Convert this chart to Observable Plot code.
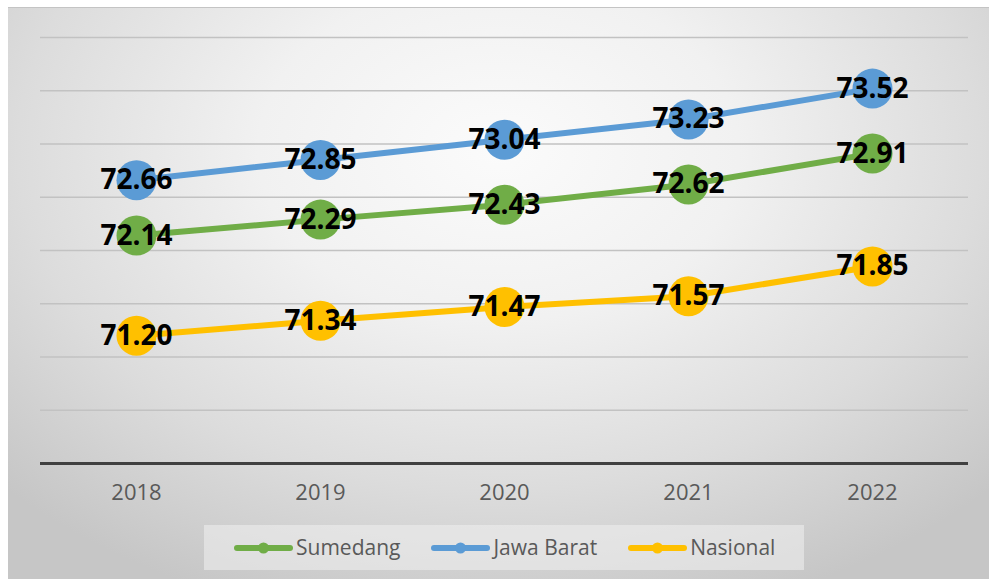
<!DOCTYPE html>
<html>
<head>
<meta charset="utf-8">
<script src="https://cdn.jsdelivr.net/npm/d3@7"></script>
<script src="https://cdn.jsdelivr.net/npm/@observablehq/plot@0.6"></script>
<style>
  html, body { margin: 0; padding: 0; background: #ffffff; }
  #wrap { position: relative; width: 989px; height: 583px; overflow: hidden; background: #ffffff; font-family: "Open Sans", sans-serif; }
  #panel { position: absolute; left: 8px; top: 7px; width: 981px; height: 572px;
    background: radial-gradient(ellipse 70% 85% at 50% 25%, #fbfbfb 0%, #f1f1f1 35%, #dcdcdc 70%, #c6c6c6 100%);
    border-top: 1px solid #c4c4c4; box-sizing: border-box; }
  #chart { position: absolute; left: 0; top: 0; }
  #legend { position: absolute; left: 204px; top: 525px; width: 600px; height: 45px;
    background: rgba(240,240,240,0.55); display: flex; align-items: center; padding-left: 30px; box-sizing: border-box; white-space: nowrap; }
  .item { display: flex; align-items: center; margin-right: 31px; flex-shrink: 0; white-space: nowrap; }
  .item svg { flex-shrink: 0; }
  .item span { font-size: 21px; color: #595959; margin-left: 3px; line-height: 1; white-space: nowrap; }
</style>
</head>
<body>
<div id="wrap">
  <div id="panel"></div>
  <div id="chart"></div>
  <div id="legend"></div>
</div>
<script>
const years = ["2018", "2019", "2020", "2021", "2022"];
const sumedang = [72.14, 72.29, 72.43, 72.62, 72.91];
const jawaBarat = [72.66, 72.85, 73.04, 73.23, 73.52];
const nasional = [71.20, 71.34, 71.47, 71.57, 71.85];
const seriesNames = ["Sumedang", "Jawa Barat", "Nasional"];
const seriesColors = ["#70AD47", "#5B9BD5", "#FFC000"];
const gridValues = [70.5, 71, 71.5, 72, 72.5, 73, 73.5, 74];
const yDomain = [70, 74];

const seriesValues = [sumedang, jawaBarat, nasional];
const data = [];
seriesNames.forEach((name, i) => {
  years.forEach((yr, j) => data.push({ series: name, year: yr, value: seriesValues[i][j] }));
});

const chart = Plot.plot({
  width: 989,
  height: 515,
  marginLeft: 40,
  marginRight: 21,
  marginTop: 37,
  marginBottom: 52,
  style: { background: "transparent", fontFamily: "Open Sans, sans-serif", overflow: "visible" },
  x: { type: "point", domain: years, range: [42, 966], padding: 0.5, label: null },
  y: { domain: yDomain, axis: null },
  color: { domain: seriesNames, range: seriesColors },
  marks: [
    Plot.ruleY(gridValues, { stroke: "#c2c2c2", strokeWidth: 1.6 }),
    Plot.ruleY([yDomain[0]], { stroke: "#404040", strokeWidth: 3 }),
    Plot.axisX({ tickSize: 0, tickPadding: 21, fontSize: 22, fill: "#595959", label: null }),
    Plot.line(data, { x: "year", y: "value", z: "series", stroke: "series", strokeWidth: 6, strokeLinecap: "round" }),
    Plot.dot(data, { x: "year", y: "value", fill: "series", r: 20 }),
    Plot.text(data, { x: "year", y: "value", text: d => d.value.toFixed(2), fill: "black", fontSize: 28, fontWeight: "bold" })
  ]
});
document.getElementById("chart").appendChild(chart);

const legend = document.getElementById("legend");
seriesNames.forEach((name, i) => {
  const item = document.createElement("div");
  item.className = "item";
  item.innerHTML = `<svg width="59" height="14"><line x1="3" y1="7" x2="56" y2="7" stroke="${seriesColors[i]}" stroke-width="6" stroke-linecap="round"/><circle cx="29.5" cy="7" r="5.5" fill="${seriesColors[i]}"/></svg><span>${name}</span>`;
  legend.appendChild(item);
});
</script>
</body>
</html>
